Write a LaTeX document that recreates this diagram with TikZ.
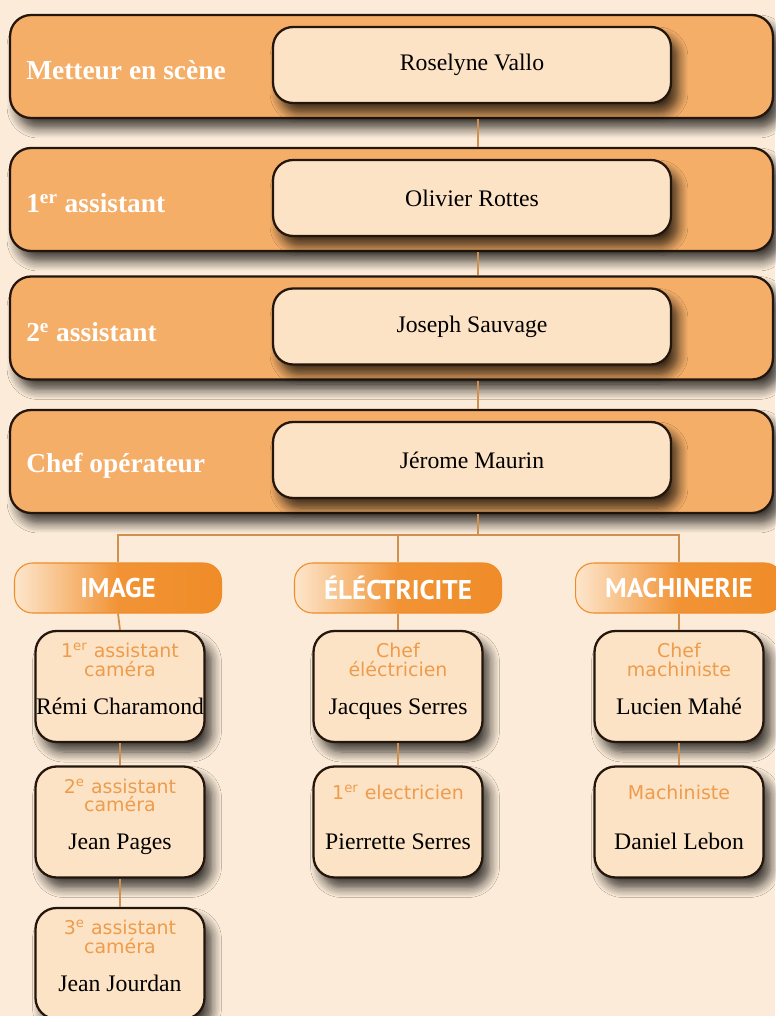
\documentclass[tikz,border=0pt]{standalone}
\usepackage{fontspec}
\setmainfont{Liberation Serif}
\newfontfamily\rolefont{DejaVu Sans}
\newfontfamily\hdrfont{PT Sans}
\usetikzlibrary{positioning,shadows.blur,calc}

\definecolor{bgcream}{HTML}{FBEBD8}
\definecolor{bandorange}{HTML}{F4AE68}
\definecolor{boxpeach}{HTML}{FDE3C5}
\definecolor{edge}{HTML}{24160C}
\definecolor{linkbrown}{HTML}{D09050}
\definecolor{hdrorange}{HTML}{F08C28}
\definecolor{hdrlight}{HTML}{FDE6CC}
\definecolor{roleorange}{HTML}{EE9C4C}

\tikzset{
  softshadow/.style={blur shadow={shadow blur steps=8, shadow xshift=0.14cm, shadow yshift=-0.2cm, shadow blur radius=0.2cm, shadow opacity=75}},
  band/.style={draw=edge, line width=1.3pt, fill=bandorange, rounded corners=0.42cm,
    minimum width=15.26cm, minimum height=2.06cm, softshadow},
  bandlabel/.style={text=white, font=\fontsize{15.6}{18}\selectfont\bfseries, anchor=west, inner sep=0pt},
  inbox/.style={draw=edge, line width=1.3pt, fill=boxpeach, rounded corners=0.4cm,
    minimum width=7.96cm, minimum height=1.52cm, font=\fontsize{13.5}{15}\selectfont, softshadow},
  header/.style={draw=hdrorange, line width=0.6pt, rounded corners=0.36cm,
    minimum width=4.14cm, minimum height=1cm, left color=hdrlight, right color=hdrorange,
    middle color=hdrorange!92!hdrlight, text=white,
    font=\hdrfont\fontsize{15.4}{17}\selectfont\bfseries},
  crew/.style={draw=edge, line width=1.3pt, fill=boxpeach, rounded corners=0.42cm,
    minimum width=3.38cm, minimum height=2.22cm, softshadow},
  role/.style={text=roleorange, font=\rolefont\fontsize{10.8}{10.6}\selectfont, align=center, inner sep=0pt},
  who/.style={font=\fontsize{13.5}{15}\selectfont, inner sep=0pt, anchor=base},
  link/.style={linkbrown, line width=1pt}
}

\begin{document}
\begin{tikzpicture}[x=0.02cm,y=-0.02cm]
    % Background
    \useasboundingbox (0,0) rectangle (775,1016);
    \fill[bgcream] (0,0) rectangle (775,1016);

    % Top chain of bands
    \foreach \i/\y/\job/\name in {1/66.5/{Metteur en scène}/{Roselyne Vallo},
        2/199.5/{1\textsuperscript{er} assistant}/{Olivier Rottes},
        3/328/{2\textsuperscript{e} assistant}/{Joseph Sauvage},
        4/461.5/{Chef opérateur}/{Jérome Maurin}} {
        \node[band] (band\i) at (391.5,\y) {};
        \node[bandlabel] (job\i) at ([xshift=0.34cm,yshift=-0.08cm]band\i.west) {\job};
        \node[inbox] (in\i) at (472,\y-1.5) {\name};
    }
    \coordinate (spine) at (478,0);
    \foreach \i/\j in {1/2,2/3,3/4}
        \draw[link] (band\i.south -| spine) -- (band\j.north -| spine);

    % Departments
    \node[header] (hImg) at (118,588) {IMAGE};
    \node[header] (hElc) at (398,588) {ÉLÉCTRICITE};
    \node[header] (hMac) at (679,588) {MACHINERIE};

    \coordinate (fork) at (478,535);
    \draw[link] (band4.south -| spine) -- (fork);
    \draw[link] (hImg.north) |- (fork) -| (hMac.north);
    \draw[link] (hElc.north) -- (hElc.north |- fork);

    % Crew boxes
    \node[crew] (img1) at (120,686.5) {};
    \node[crew] (img2) at (120,822) {};
    \node[crew] (img3) at (120,963.5) {};
    \node[crew] (elc1) at (398,686.5) {};
    \node[crew] (elc2) at (398,822) {};
    \node[crew] (mac1) at (679,686.5) {};
    \node[crew] (mac2) at (679,822) {};

    % Roles and names
    \node[role,below=0.26cm of img1.north] (rImg1) {1\textsuperscript{er} assistant\\caméra};
    \node[who] (nImg1) at ([yshift=-0.55cm]img1.center) {Rémi Charamond};
    \node[role,below=0.26cm of img2.north] (rImg2) {2\textsuperscript{e} assistant\\caméra};
    \node[who] (nImg2) at ([yshift=-0.55cm]img2.center) {Jean Pages};
    \node[role,below=0.26cm of img3.north] (rImg3) {3\textsuperscript{e} assistant\\caméra};
    \node[who] (nImg3) at ([yshift=-0.55cm]img3.center) {Jean Jourdan};
    \node[role,below=0.26cm of elc1.north] (rElc1) {Chef\\éléctricien};
    \node[who] (nElc1) at ([yshift=-0.55cm]elc1.center) {Jacques Serres};
    \node[role,below=0.38cm of elc2.north] (rElc2) {1\textsuperscript{er} electricien};
    \node[who] (nElc2) at ([yshift=-0.55cm]elc2.center) {Pierrette Serres};
    \node[role,below=0.26cm of mac1.north] (rMac1) {Chef\\machiniste};
    \node[who] (nMac1) at ([yshift=-0.55cm]mac1.center) {Lucien Mahé};
    \node[role,below=0.38cm of mac2.north] (rMac2) {Machiniste};
    \node[who] (nMac2) at ([yshift=-0.55cm]mac2.center) {Daniel Lebon};

    % Links inside departments
    \draw[link] (hImg.south) -- (img1.north);
    \draw[link] (img1.south) -- (img2.north);
    \draw[link] (img2.south) -- (img3.north);
    \draw[link] (hElc.south) -- (elc1.north);
    \draw[link] (elc1.south) -- (elc2.north);
    \draw[link] (hMac.south) -- (mac1.north);
    \draw[link] (mac1.south) -- (mac2.north);
\end{tikzpicture}
\end{document}
